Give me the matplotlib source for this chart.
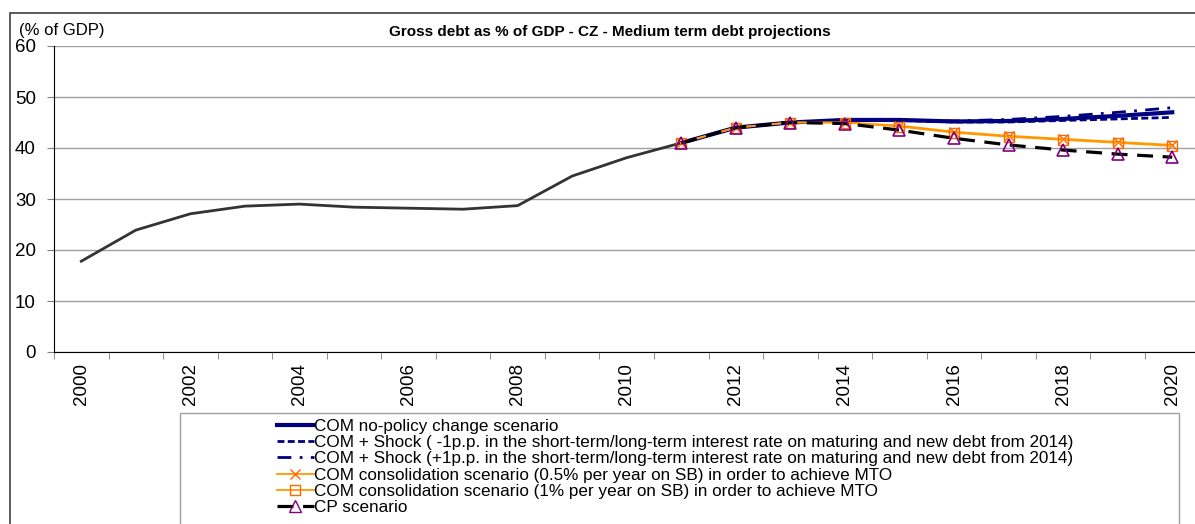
import matplotlib.pyplot as plt
from matplotlib.patches import Rectangle
from matplotlib.lines import Line2D

plt.rcParams['font.family'] = ['Liberation Sans', 'DejaVu Sans']

# Data
years = list(range(2000, 2021))
hist_years = list(range(2000, 2012))
hist_debt = [17.8, 23.9, 27.1, 28.6, 29.0, 28.4, 28.2, 28.0, 28.7, 34.5, 38.1, 41.0]

proj_years = list(range(2011, 2021))
com_npc = [41.0, 44.0, 45.0, 45.5, 45.5, 45.2, 45.3, 45.7, 46.3, 47.0]
shock_minus = [41.0, 44.0, 45.0, 45.5, 45.4, 45.1, 45.1, 45.4, 45.7, 46.0]
shock_plus = [41.0, 44.0, 45.0, 45.5, 45.5, 45.3, 45.6, 46.2, 47.0, 47.9]
cons_05 = [41.0, 44.0, 45.0, 45.0, 44.4, 43.2, 42.4, 41.8, 41.2, 40.6]
cons_1 = [41.0, 44.0, 45.0, 45.0, 44.2, 43.0, 42.2, 41.6, 41.0, 40.4]
cp = [41.0, 44.0, 45.0, 44.8, 43.5, 41.9, 40.6, 39.6, 38.8, 38.2]

labels = [
    "COM no-policy change scenario",
    "COM + Shock ( -1p.p. in the short-term/long-term interest rate on maturing and new debt from 2014)",
    "COM + Shock (+1p.p. in the short-term/long-term interest rate on maturing and new debt from 2014)",
    "COM consolidation scenario (0.5% per year on SB) in order to achieve MTO",
    "COM consolidation scenario (1% per year on SB) in order to achieve MTO",
    "CP scenario",
]

W, H = 1195, 524
fig = plt.figure(figsize=(W / 100, H / 100), dpi=100)

# outer chart border
fig.patches.append(Rectangle((10 / W, -0.1), 1.2, 1 - 13 / H + 0.1, transform=fig.transFigure,
                             fill=False, edgecolor='#404040', linewidth=1.2))
# legend box
fig.patches.append(Rectangle((180 / W, -0.1), (1179 - 180) / W, 1 - 413 / H + 0.1,
                             transform=fig.transFigure, fill=False, edgecolor='#a0a0a0', linewidth=1.0))

left, right, top, bottom = 54, 1199.5, 46, 352
ax = fig.add_axes([left / W, 1 - bottom / H, (right - left) / W, (bottom - top) / H])

x0 = years[0]
ax.plot([y - x0 for y in hist_years], hist_debt, color='#333333', lw=2.0, zorder=3)
px = [y - x0 for y in proj_years]
ax.plot(px, shock_minus, color='#000080', lw=2.0, ls=(0, (2.5, 1.2)), zorder=4)
ax.plot(px, shock_plus, color='#000080', lw=2.0, ls=(0, (5, 3, 1, 3)), zorder=4)
ax.plot(px, com_npc, color='#000080', lw=3.0, zorder=5)
ax.plot(px, cons_05, color='#FF9900', lw=1.3, marker='x', ms=7, mec='#FF6600', mew=1.0, zorder=6)
ax.plot(px, cons_1, color='#FF9900', lw=1.3, marker='s', ms=7, mfc='none', mec='#FF6600', mew=1.0, zorder=6)
ax.plot(px, cp, color='black', lw=2.3, ls=(0, (5, 3)), zorder=7)
ax.plot(px, cp, ls='none', marker='^', ms=8, mfc='none', mec='#800080', mew=1.2, zorder=8)

ax.set_xlim(-0.5, len(years) - 0.5)
ax.set_ylim(0, 60)
ax.set_yticks(range(0, 61, 10))
ax.set_xticks(range(0, len(years), 2))
ax.set_xticklabels([str(y) for y in years[::2]], rotation=90, fontsize=13.5)
ax.set_xticks([i - 0.5 for i in range(len(years) + 1)], minor=True)
ax.tick_params(axis='x', which='major', length=0, pad=8)
ax.tick_params(axis='x', which='minor', length=5, color='#808080')
ax.tick_params(axis='y', length=5, labelsize=13.5, pad=8, color='#808080')
ax.grid(axis='y', color='#a0a0a0', lw=1.0)
ax.set_axisbelow(True)
for s in ['top', 'right']:
    ax.spines[s].set_visible(False)
ax.spines['left'].set_color('black')
ax.spines['bottom'].set_color('black')

fig.text(19 / W, 1 - 30 / H, "(% of GDP)", fontsize=12, va='center', ha='left')
fig.text(610 / W, 1 - 32 / H, "Gross debt as % of GDP - CZ - Medium term debt projections",
         fontsize=11, fontweight='bold', va='center', ha='center')

handles = [
    Line2D([], [], color='#000080', lw=3.0),
    Line2D([], [], color='#000080', lw=2.0, ls=(0, (2.5, 1.2))),
    Line2D([], [], color='#000080', lw=2.0, ls=(0, (5, 3, 1, 3))),
    Line2D([], [], color='#FF9900', lw=1.3, marker='x', ms=7, mec='#FF6600'),
    Line2D([], [], color='#FF9900', lw=1.3, marker='s', ms=7, mfc='none', mec='#FF6600'),
    Line2D([], [], color='black', lw=2.3, ls=(0, (5, 3)), marker='^', ms=8, mfc='none', mec='#800080'),
]
fig.legend(handles, labels, loc='upper left', bbox_to_anchor=(265 / W, 1 - 407 / H),
           frameon=False, fontsize=12.3, handlelength=2.15, handletextpad=0.0,
           labelspacing=0.07, borderpad=0.2)

fig.savefig("out.png", dpi=100)
